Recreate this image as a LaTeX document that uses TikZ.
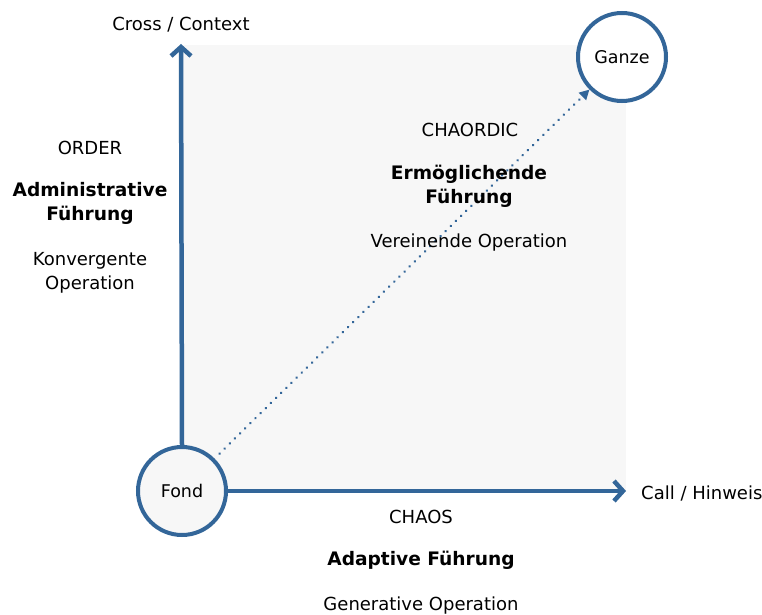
\documentclass[tikz,border=0pt]{standalone}
\usepackage{fontspec}
\setmainfont{DejaVu Sans}
\usetikzlibrary{arrows.meta}
\definecolor{axisblue}{HTML}{336699}
\definecolor{fieldgray}{HTML}{F7F7F7}
\tikzset{
  lbl/.style={font=\fontsize{18bp}{24bp}\selectfont, align=center, inner sep=0pt},
  hd/.style={lbl, font=\fontsize{18.6bp}{24bp}\selectfont\bfseries},
  axis/.style={axisblue, line width=4.5bp, -{Straight Barb[length=9bp,width=20bp]}},
  pole/.style={circle, draw=axisblue, line width=4bp, minimum size=88bp, inner sep=0pt,
    font=\fontsize{17.5bp}{20bp}\selectfont},
}
\begin{document}
\begin{tikzpicture}[x=1bp,y=-1bp]
  \useasboundingbox (0,0) rectangle (762,615);
  % shaded field between the two axes
  \fill[fieldgray] (181,45) rectangle (626,491);

  \node[pole, fill=fieldgray] (fond) at (182,491) {Fond};
  \node[pole, fill=white] (ganze) at (622,57) {Ganze};

  \coordinate (ytip) at (181,44);
  \coordinate (xtip) at (626,491);
  \draw[axis] (fond.north) -- (ytip);
  \draw[axis] (fond.east) -- (xtip);
  \draw[axisblue, line width=2.8bp, line cap=round, dash pattern=on 0.01bp off 7.2bp,
        shorten <=7bp, -{Triangle[length=10bp,width=10bp]}] (fond.45) -- (ganze.225);

  \node[lbl] (cross) at (181,25) {Cross / Context};
  \node[lbl, anchor=west] (call) at (641,493) {Call / Hinweis};

  \node[lbl] (order) at (90,148) {ORDER};
  \node[hd] (admin) at (90,203) {Administrative\\Führung};
  \node[lbl] (konv) at (90,273) {Konvergente\\Operation};

  \node[lbl] (chaordic) at (470,130) {CHAORDIC};
  \node[hd] (ermoeg) at (469,186) {Ermöglichende\\Führung};
  \node[lbl] (verein) at (469,243) {Vereinende Operation};

  \node[lbl] (chaos) at (421,517) {CHAOS};
  \node[hd] (adapt) at (421,560) {Adaptive Führung};
  \node[lbl] (gener) at (421,606) {Generative Operation};
\end{tikzpicture}
\end{document}
